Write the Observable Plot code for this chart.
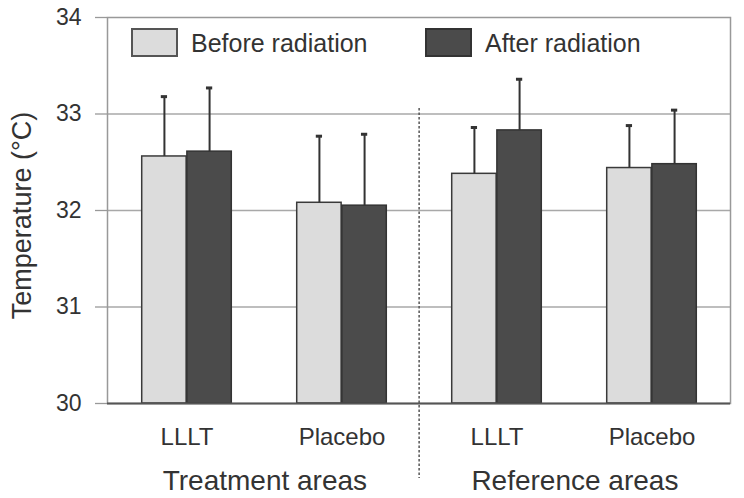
<!DOCTYPE html>
<html>
<head>
<meta charset="utf-8">
<script src="https://cdn.jsdelivr.net/npm/d3@7"></script>
<script src="https://cdn.jsdelivr.net/npm/@observablehq/plot@0.6"></script>
<style>
  html, body { margin: 0; padding: 0; background: #fff; }
  #wrap { position: relative; width: 744px; height: 498px; font-family: "Liberation Sans", Arial, sans-serif; color: #333; }
  .lg { position: absolute; display: flex; align-items: center; font-size: 25px; color: #333; }
  .lg .box { width: 43px; height: 25px; border: 2px solid #555; margin-right: 13px; }
</style>
</head>
<body>
<div id="wrap"></div>
<script>
// ---- data ----
const areas = ["Treatment areas", "Treatment areas", "Reference areas", "Reference areas"];
const groups = ["LLLT", "Placebo", "LLLT", "Placebo"];
const series = ["Before radiation", "After radiation"];
const beforeMean = [32.56, 32.08, 32.38, 32.44];
const beforeSD   = [0.62, 0.69, 0.48, 0.44];
const afterMean  = [32.61, 32.05, 32.83, 32.48];
const afterSD    = [0.66, 0.74, 0.53, 0.56];
const yTicks = [30, 31, 32, 33, 34];
const yLabel = "Temperature (°C)";
const colors = ["#dcdcdc", "#4b4b4b"];

// ---- layout ----
const W = 744, H = 498, ml = 107, mr = 14, mt = 17, mb = 95;
const keys = groups.map((g, i) => `${areas[i]}|${g}`);
const rows = [];
keys.forEach((k, i) => {
  rows.push({key: k, series: series[0], mean: beforeMean[i], upper: beforeMean[i] + beforeSD[i]});
  rows.push({key: k, series: series[1], mean: afterMean[i], upper: afterMean[i] + afterSD[i]});
});
const before = rows.filter(d => d.series === series[0]);
const after = rows.filter(d => d.series === series[1]);
const areaTitles = keys.filter((k, i) => i % 2 === 0).map(k => ({key: k, title: k.split("|")[0]}));

const xs = Plot.scale({x: {type: "band", domain: keys, range: [ml, W - mr], padding: 0}});
const bw = xs.bandwidth ?? (W - mr - ml) / keys.length;
const barW = bw * 0.29;
const capHalf = 3.5;
const y0 = yTicks[0];

const chart = Plot.plot({
  width: W, height: H,
  marginLeft: ml, marginRight: mr, marginTop: mt, marginBottom: mb,
  style: {fontFamily: '"Liberation Sans", Arial, sans-serif', color: "#333", background: "#fff"},
  x: {type: "band", domain: keys, padding: 0, axis: null},
  y: {domain: [yTicks[0], yTicks[yTicks.length - 1]], axis: null},
  marks: [
    Plot.gridY(yTicks.slice(1, -1), {stroke: "#a8a8a8", strokeOpacity: 1, strokeWidth: 1.3}),
    Plot.frame({stroke: "#999", strokeWidth: 1.5}),
    // y tick marks (outward)
    Plot.axisY(yTicks, {tickSize: 12, text: null, stroke: "#999", strokeWidth: 1.3, label: null}),
    // y tick labels
    Plot.text(yTicks, {y: d => d, text: d => String(d), frameAnchor: "left", textAnchor: "end", dx: -26,
      fontSize: 23, fill: "#333"}),
    // x tick labels
    Plot.text(keys, {x: d => d, text: d => d.split("|")[1], frameAnchor: "bottom", dy: 34,
      fontSize: 24, fill: "#333", lineAnchor: "middle"}),
    // bars
    Plot.barY(before, {x: "key", y1: y0, y2: "mean", fill: colors[0], stroke: "#3a3a3a", strokeWidth: 1.5,
      insetLeft: bw / 2 - barW, insetRight: bw / 2}),
    Plot.barY(after, {x: "key", y1: y0, y2: "mean", fill: colors[1], stroke: "#333", strokeWidth: 1.5,
      insetLeft: bw / 2, insetRight: bw / 2 - barW}),
    // error bars
    Plot.ruleX(before, {x: "key", y1: "mean", y2: "upper", dx: -barW / 2, stroke: "#333", strokeWidth: 2}),
    Plot.ruleX(after, {x: "key", y1: "mean", y2: "upper", dx: barW / 2, stroke: "#333", strokeWidth: 2}),
    Plot.tickY(before, {x: "key", y: "upper", stroke: "#333", strokeWidth: 3,
      insetLeft: bw / 2 - barW / 2 - capHalf, insetRight: bw / 2 + barW / 2 - capHalf}),
    Plot.tickY(after, {x: "key", y: "upper", stroke: "#333", strokeWidth: 3,
      insetLeft: bw / 2 + barW / 2 - capHalf, insetRight: bw / 2 - barW / 2 - capHalf}),
    // baseline
    Plot.ruleY([y0], {stroke: "#555", strokeWidth: 2}),
    // divider between areas
    Plot.ruleX([keys[2]], {x: d => d, dx: -bw / 2, insetTop: 91, insetBottom: -75,
      stroke: "#555", strokeWidth: 1.5, strokeDasharray: "2.5,2"}),
    // area titles
    Plot.text(areaTitles, {x: "key", text: "title", dx: bw / 2, frameAnchor: "bottom", dy: 78,
      fontSize: 28, fill: "#333", textAnchor: "middle", lineAnchor: "middle"}),
    // y label
    Plot.text([yLabel], {text: d => d, frameAnchor: "left", rotate: -90, dx: -85, dy: 5,
      fontSize: 27, fill: "#333", textAnchor: "middle", lineAnchor: "middle"})
  ]
});

const wrap = document.getElementById("wrap");
wrap.appendChild(chart);

// legend (inside plot area, as in the reference)
const legendPos = [{left: 131, top: 28}, {left: 425, top: 28}];
series.forEach((s, i) => {
  const el = document.createElement("div");
  el.className = "lg";
  el.style.left = legendPos[i].left + "px";
  el.style.top = legendPos[i].top + "px";
  el.style.height = "29px";
  const box = document.createElement("div");
  box.className = "box";
  box.style.background = colors[i];
  if (i === 1) box.style.borderColor = "#333";
  const t = document.createElement("span");
  t.textContent = s;
  t.style.marginTop = "2px";
  el.appendChild(box); el.appendChild(t);
  wrap.appendChild(el);
});
</script>
</body>
</html>
